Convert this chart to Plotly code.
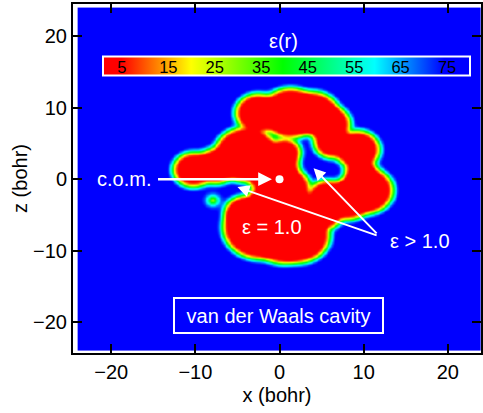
import numpy as np
import plotly.graph_objects as go

# atom cross-sections (bohr): centre x, centre z, radius in the plane, edge softness
atom_x = [1.23, -2.6, 4.0, 5.8, 9.2, 10.2, 5.5, 8.0, 1.0, 6.2, -4.0, 0.5, -0.5,
          -2.4, -4.3, 2.2, 0.3, 5.0, 2.5, -1.5, -10.3, -7.6, -8.0, 9.6, -2.0]
atom_z = [9.3, 9.3, 9.3, 7.8, 4.2, -1.5, -2.2, -2.8, -1.0, 5.2, 3.5, 3.8, 1.5,
          -6.7, -4.6, -7.9, -8.5, -4.6, -3.6, -2.7, 1.4, 1.9, -2.9, 1.2, 0.2]
atom_r = [3.55, 2.75, 3.0, 2.6, 2.7, 3.3, 2.15, 2.85, 2.6, 2.2, 3.9, 2.0, 2.8,
          4.45, 2.3, 3.75, 3.25, 2.5, 2.0, 2.3, 2.45, 2.5, 0.3, 1.9, 1.8]
atom_w = [0.45] * 22 + [0.7, 0.45, 0.45]
eps_in = 1.0
eps_out = 78.0
grid_lim = 23.9
n_grid = 241

cbar_ticks = [5, 15, 25, 35, 45, 55, 65, 75]
axis_ticks = [-20, -10, 0, 10, 20]

gx = np.linspace(-grid_lim, grid_lim, n_grid)
gz = np.linspace(-grid_lim, grid_lim, n_grid)
X, Z = np.meshgrid(gx, gz)
outside = np.ones_like(X)
for ax_, az_, ar_, aw_ in zip(atom_x, atom_z, atom_r, atom_w):
    d = np.hypot(X - ax_, Z - az_)
    cov = 0.5 * (1 - np.tanh((d - ar_) / aw_))
    outside *= (1 - cov)
eps = eps_in + (eps_out - eps_in) * outside

cscale = [[0, 'rgb(255,0,0)'], [0.05, 'rgb(255,0,0)'], [0.24, 'rgb(255,255,0)'],
          [0.49, 'rgb(0,255,0)'], [0.74, 'rgb(0,255,255)'], [0.93, 'rgb(0,0,255)'],
          [1, 'rgb(0,0,255)']]

FONT = "Liberation Sans, Arial, Helvetica, sans-serif"
FS = 20

fig = go.Figure()
fig.add_trace(go.Heatmap(
    x=gx, y=gz, z=eps, zmin=1, zmax=80, colorscale=cscale, zsmooth='best',
    hoverinfo='skip',
    colorbar=dict(orientation='h', x=0.524, xanchor='center', y=0.82, yanchor='middle',
                  len=0.90, lenmode='fraction', thickness=19,
                  outlinecolor='white', outlinewidth=2,
                  tickvals=cbar_ticks, ticks='', ticklabelposition='inside',
                  tickfont=dict(color='black', size=16.5, family=FONT),
                  xpad=0, ypad=0, bgcolor='rgba(0,0,0,0)')
))
fig.add_trace(go.Scatter(x=[0], y=[0], mode='markers',
                         marker=dict(color='white', size=8), hoverinfo='skip', showlegend=False))

ann = []
ann.append(dict(x=0.515, y=0.893, xref='paper', yref='paper', xanchor='center', yanchor='middle',
                text='ε(r)', showarrow=False, font=dict(color='white', size=FS, family=FONT)))
ann.append(dict(x=-0.9, y=0, ax=-14.8, ay=0, xref='x', yref='y', axref='x', ayref='y',
                text=' ', showarrow=True, arrowhead=2, arrowsize=1.1, arrowwidth=2.5, arrowcolor='white'))
ann.append(dict(x=-15.0, y=0, xref='x', yref='y', text='c.o.m.', showarrow=False,
                xanchor='right', font=dict(color='white', size=FS, family=FONT)))
for hx, hz in [(-5.0, -1.1), (4.05, 1.55)]:
    ann.append(dict(x=hx, y=hz, ax=11.9, ay=-8.0, xref='x', yref='y', axref='x', ayref='y',
                    text=' ', showarrow=True, arrowhead=2, arrowsize=1.2, arrowwidth=2, arrowcolor='white'))
ann.append(dict(x=16.7, y=-8.6, xref='x', yref='y', text='ε > 1.0', showarrow=False,
                font=dict(color='white', size=FS, family=FONT)))
ann.append(dict(x=-0.9, y=-6.7, xref='x', yref='y', text='ε = 1.0', showarrow=False,
                font=dict(color='white', size=FS, family=FONT)))
ann.append(dict(x=-0.1, y=-19.1, xref='x', yref='y', text='van der Waals cavity', showarrow=False,
                width=207, height=33, bordercolor='white', borderwidth=2, borderpad=0,
                font=dict(color='white', size=FS, family=FONT)))

axis_common = dict(ticks='inside', ticklen=9, tickwidth=1.5, tickcolor='black',
                   showline=True, linecolor='black', linewidth=2, mirror='ticks',
                   showgrid=False, zeroline=False, tickvals=axis_ticks,
                   tickfont=dict(size=FS, color='black', family=FONT))

fig.update_layout(
    width=483, height=413,
    margin=dict(l=73, r=0, t=4, b=60),
    paper_bgcolor='white', plot_bgcolor='white',
    font=dict(family=FONT, color='black'),
    showlegend=False,
    annotations=ann,
    xaxis=dict(range=[-24.55, 23.95], title=dict(text='x (bohr)', font=dict(size=FS), standoff=6),
               **axis_common),
    yaxis=dict(range=[-24.3, 24.5], title=dict(text='z (bohr)', font=dict(size=FS), standoff=0),
               **axis_common),
)

fig.write_html("out.html", config={'displayModeBar': False},
               post_script="document.body.style.margin='0px';")
